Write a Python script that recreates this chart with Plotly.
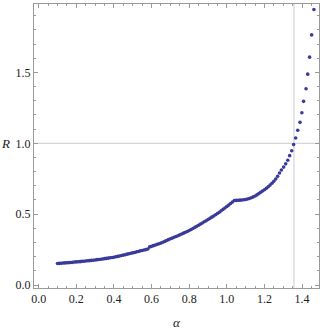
import plotly.graph_objects as go

# alpha values (x) and R values (y)
alpha = [
    0.10, 0.11, 0.12, 0.13, 0.14, 0.15, 0.16, 0.17, 0.18, 0.19,
    0.20, 0.21, 0.22, 0.23, 0.24, 0.25, 0.26, 0.27, 0.28, 0.29,
    0.30, 0.31, 0.32, 0.33, 0.34, 0.35, 0.36, 0.37, 0.38, 0.39,
    0.40, 0.41, 0.42, 0.43, 0.44, 0.45, 0.46, 0.47, 0.48, 0.49,
    0.50, 0.51, 0.52, 0.53, 0.54, 0.55, 0.56, 0.57, 0.58, 0.59,
    0.60, 0.61, 0.62, 0.63, 0.64, 0.65, 0.66, 0.67, 0.68, 0.69,
    0.70, 0.71, 0.72, 0.73, 0.74, 0.75, 0.76, 0.77, 0.78, 0.79,
    0.80, 0.81, 0.82, 0.83, 0.84, 0.85, 0.86, 0.87, 0.88, 0.89,
    0.90, 0.91, 0.92, 0.93, 0.94, 0.95, 0.96, 0.97, 0.98, 0.99,
    1.00, 1.01, 1.02, 1.03, 1.04, 1.05, 1.06, 1.07, 1.08, 1.09,
    1.10, 1.11, 1.12, 1.13, 1.14, 1.15, 1.16, 1.17, 1.18, 1.19,
    1.20, 1.21, 1.22, 1.23, 1.24, 1.25, 1.26, 1.27, 1.28, 1.29,
    1.302, 1.313, 1.324, 1.334, 1.345, 1.355, 1.366, 1.377, 1.389, 1.399,
    1.408, 1.421, 1.430, 1.440, 1.451, 1.463,
]
R = [
    0.152, 0.153, 0.154, 0.155, 0.156, 0.157, 0.158, 0.159, 0.160, 0.162,
    0.163, 0.164, 0.165, 0.167, 0.168, 0.169, 0.171, 0.172, 0.174, 0.175,
    0.177, 0.179, 0.180, 0.182, 0.184, 0.186, 0.188, 0.190, 0.192, 0.194,
    0.196, 0.199, 0.202, 0.205, 0.208, 0.211, 0.214, 0.218, 0.221, 0.224,
    0.227, 0.230, 0.234, 0.237, 0.241, 0.244, 0.247, 0.250, 0.254, 0.269,
    0.273, 0.278, 0.282, 0.287, 0.291, 0.296, 0.302, 0.308, 0.314, 0.320,
    0.326, 0.331, 0.337, 0.342, 0.348, 0.354, 0.360, 0.366, 0.372, 0.378,
    0.385, 0.392, 0.399, 0.407, 0.414, 0.422, 0.430, 0.438, 0.446, 0.454,
    0.462, 0.470, 0.479, 0.487, 0.496, 0.505, 0.514, 0.524, 0.534, 0.544,
    0.554, 0.564, 0.575, 0.586, 0.596, 0.597, 0.598, 0.599, 0.600, 0.602,
    0.604, 0.607, 0.611, 0.616, 0.622, 0.628, 0.636, 0.645, 0.654, 0.663,
    0.672, 0.682, 0.693, 0.705, 0.718, 0.732, 0.748, 0.767, 0.790, 0.812,
    0.832, 0.855, 0.880, 0.913, 0.947, 0.991, 1.037, 1.092, 1.148, 1.216,
    1.296, 1.385, 1.488, 1.608, 1.765, 1.944,
]

# reference grid lines
grid_x = 1.357
grid_y = 1.0

frame = "#9a9a9a"
textcol = "#222222"
serif = "Liberation Serif, Times New Roman, serif"

fig = go.Figure()
fig.add_trace(
    go.Scatter(
        x=alpha,
        y=R,
        mode="markers",
        marker=dict(color="#3a3a9c", size=3.6, line=dict(width=0)),
        hoverinfo="x+y",
    )
)

fig.add_vline(x=grid_x, line=dict(color="#cccccc", width=1), layer="below")
fig.add_hline(y=grid_y, line=dict(color="#cccccc", width=1), layer="below")

axis_common = dict(
    showline=True,
    linecolor=frame,
    linewidth=1,
    mirror="allticks",
    ticks="inside",
    ticklen=4,
    tickcolor=frame,
    showgrid=False,
    zeroline=False,
    tickfont=dict(family=serif, size=12, color=textcol),
    tickformat=".1f",
    tick0=0,
)

fig.update_xaxes(
    range=[-0.025, 1.49],
    dtick=0.2,
    minor=dict(ticks="inside", dtick=0.05, ticklen=2, tickcolor=frame, showgrid=False),
    **axis_common,
)
fig.update_yaxes(
    range=[-0.021, 1.983],
    dtick=0.5,
    minor=dict(ticks="inside", dtick=0.1, ticklen=2, tickcolor=frame, showgrid=False),
    **axis_common,
)

# axis labels, Mathematica style: alpha below, R to the left at mid height
fig.add_annotation(text="<i>α</i>", xref="paper", x=0.5, yref="paper", y=-0.12,
                   yanchor="middle", showarrow=False,
                   font=dict(family=serif, size=13, color=textcol))
fig.add_annotation(text="<i>R</i>", xref="paper", x=-0.1, yref="y", y=grid_y,
                   xanchor="center", showarrow=False,
                   font=dict(family=serif, size=13, color=textcol))

fig.update_layout(
    width=320,
    height=331,
    margin=dict(l=34, r=1, t=4, b=43),
    paper_bgcolor="white",
    plot_bgcolor="white",
    showlegend=False,
)

fig.write_html(
    "out.html",
    config={"displayModeBar": False},
    post_script="document.body.style.margin='0';",
)
